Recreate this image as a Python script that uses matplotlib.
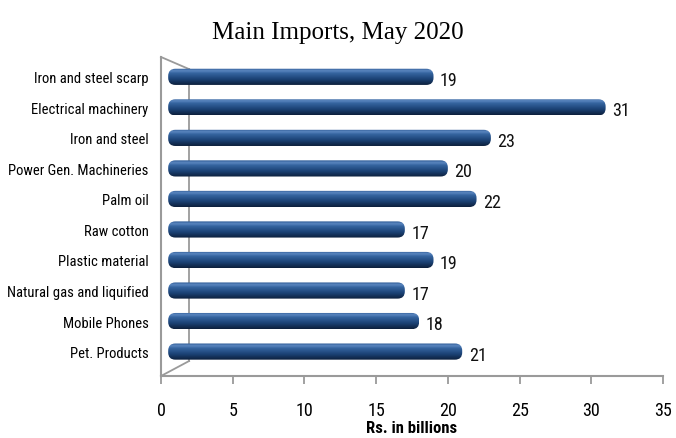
import matplotlib.pyplot as plt
import numpy as np
from matplotlib.colors import LinearSegmentedColormap
from matplotlib.patches import FancyBboxPatch
from matplotlib.lines import Line2D

# Main imports, May 2020 (Rs. in billions), bottom to top
categories = [
    "Pet. Products",
    "Mobile Phones",
    "Natural gas and liquified",
    "Plastic material",
    "Raw cotton",
    "Palm oil",
    "Power Gen. Machineries",
    "Iron and steel",
    "Electrical machinery",
    "Iron and steel scarp",
]
values = [21, 18, 17, 19, 17, 22, 20, 23, 31, 19]
xticks = [0, 5, 10, 15, 20, 25, 30, 35]

narrow = ["Roboto Condensed", "DejaVu Sans"]

fig = plt.figure(figsize=(6.76, 4.39), dpi=100)
ax = fig.add_axes([161 / 676, 1 - 377 / 439, 502 / 676, 319 / 439])

ax.set_xlim(0, 35)
ax.set_ylim(-0.8, 9.65)

# cylinder-like shading for the bars
cmap = LinearSegmentedColormap.from_list(
    "bar3d",
    [(0.0, "#0c1f3c"), (0.35, "#1b4275"), (0.7, "#35649f"),
     (0.85, "#5a86bf"), (1.0, "#2d5a94")],
)
grad = np.linspace(0, 1, 64).reshape(-1, 1)

bar_h = 0.53
start = 0.5
for i, v in enumerate(values):
    patch = FancyBboxPatch(
        (start, i - bar_h / 2), v - start, bar_h,
        boxstyle="round,pad=0,rounding_size=0.5",
        mutation_aspect=0.473,
        facecolor="none", edgecolor="none", zorder=3,
    )
    ax.add_patch(patch)
    im = ax.imshow(
        grad, cmap=cmap, aspect="auto", origin="lower",
        extent=[start, v, i - bar_h / 2, i + bar_h / 2], zorder=3,
    )
    im.set_clip_path(patch)
    ax.text(v + 0.45, i - 0.1, str(v), ha="left", va="center",
            fontsize=13, family=narrow, color="#111111", zorder=4)

# 3D style walls
wall = "#9a9a9a"
for spine in ["top", "right"]:
    ax.spines[spine].set_visible(False)
ax.spines["left"].set_color(wall)
ax.spines["left"].set_linewidth(1.5)
ax.spines["bottom"].set_color(wall)
ax.spines["bottom"].set_linewidth(1.5)
for xs, ys in [([0, 0.056], [1.0, 0.962]),
               ([0, 0.056], [0, 0.047]),
               ([0.056, 0.056], [0.047, 0.962])]:
    ax.add_line(Line2D(xs, ys, transform=ax.transAxes, color=wall,
                       lw=1.3, zorder=1, clip_on=False))

ax.set_yticks(range(len(categories)))
ax.set_yticklabels(categories, family=narrow, fontsize=10.5)
ax.tick_params(axis="y", length=0, pad=9)
ax.set_xticks(xticks)
ax.set_xticklabels([str(t) for t in xticks], family=narrow, fontsize=13)
ax.tick_params(axis="x", length=6, color=wall, width=1.3, pad=12)

ax.set_xlabel("Rs. in billions", family=narrow, fontsize=12,
              fontweight="bold", labelpad=1)

fig.suptitle("Main Imports, May 2020", family="Liberation Serif",
             fontsize=18, y=0.95)

fig.savefig("out.png", dpi=100)
